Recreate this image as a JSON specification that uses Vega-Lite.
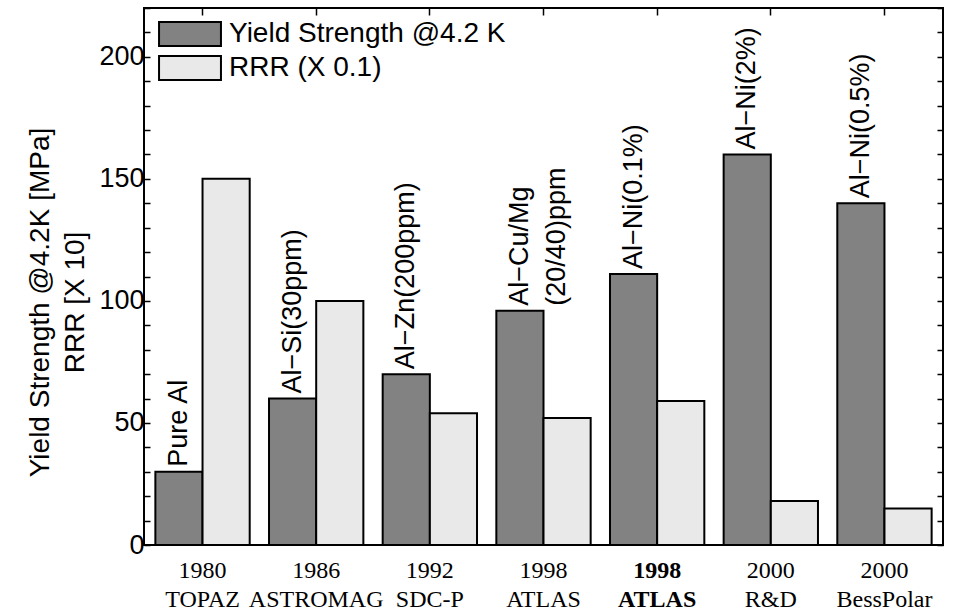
{
  "$schema": "https://vega.github.io/schema/vega-lite/v6.json",
  "width": 799,
  "height": 537,
  "autosize": "none",
  "padding": {"left": 144, "top": 8, "right": 14, "bottom": 68},
  "background": "white",
  "config": {
    "view": {"stroke": "black", "strokeWidth": 2},
    "axis": {"grid": false, "domainColor": "black", "tickColor": "black", "tickWidth": 1.5, "labelColor": "black", "titleColor": "black"}
  },
  "data": {
    "values": [
      {"grp": "1980 TOPAZ", "series": "Yield Strength @4.2 K", "value": 30, "label": "Pure Al"},
      {"grp": "1980 TOPAZ", "series": "RRR (X 0.1)", "value": 150},
      {"grp": "1986 ASTROMAG", "series": "Yield Strength @4.2 K", "value": 60, "label": "Al−Si(30ppm)"},
      {"grp": "1986 ASTROMAG", "series": "RRR (X 0.1)", "value": 100},
      {"grp": "1992 SDC-P", "series": "Yield Strength @4.2 K", "value": 70, "label": "Al−Zn(200ppm)"},
      {"grp": "1992 SDC-P", "series": "RRR (X 0.1)", "value": 54},
      {"grp": "1998 ATLAS1", "series": "Yield Strength @4.2 K", "value": 96, "label": "Al−Cu/Mg", "label2": "(20/40)ppm"},
      {"grp": "1998 ATLAS1", "series": "RRR (X 0.1)", "value": 52},
      {"grp": "1998 ATLAS2", "series": "Yield Strength @4.2 K", "value": 111, "label": "Al−Ni(0.1%)"},
      {"grp": "1998 ATLAS2", "series": "RRR (X 0.1)", "value": 59},
      {"grp": "2000 R&D", "series": "Yield Strength @4.2 K", "value": 160, "label": "Al−Ni(2%)"},
      {"grp": "2000 R&D", "series": "RRR (X 0.1)", "value": 18},
      {"grp": "2000 BessPolar", "series": "Yield Strength @4.2 K", "value": 140, "label": "Al−Ni(0.5%)"},
      {"grp": "2000 BessPolar", "series": "RRR (X 0.1)", "value": 15}
    ]
  },
  "encoding": {
    "x": {
      "field": "grp", "type": "nominal",
      "scale": {"domain": ["1980 TOPAZ", "1986 ASTROMAG", "1992 SDC-P", "1998 ATLAS1", "1998 ATLAS2", "2000 R&D", "2000 BessPolar"], "paddingInner": 0.17, "paddingOuter": 0.1},
      "axis": {
        "title": null, "domain": false,
        "labelExpr": "[slice(datum.value, 0, 4), indexof(datum.value, 'ATLAS') >= 0 ? 'ATLAS' : slice(datum.value, 5)]",
        "labelFont": "Liberation Serif", "labelFontSize": 24, "labelAngle": 0, "labelPadding": 18, "labelLineHeight": 29,
        "labelFontWeight": {"condition": {"test": "datum.value == '1998 ATLAS2'", "value": "bold"}, "value": "normal"},
        "tickSize": -5
      }
    },
    "xOffset": {"field": "series", "type": "nominal", "scale": {"domain": ["Yield Strength @4.2 K", "RRR (X 0.1)"], "paddingInner": 0, "paddingOuter": 0}},
    "y": {
      "field": "value", "type": "quantitative",
      "scale": {"domain": [0, 220], "nice": false},
      "axis": {
        "domain": false,
        "values": [0, 10, 20, 30, 40, 50, 60, 70, 80, 90, 100, 110, 120, 130, 140, 150, 160, 170, 180, 190, 200, 210, 220],
        "labelExpr": "datum.value % 50 == 0 ? datum.label : ''",
        "tickSize": -6,
        "labelFont": "Liberation Sans", "labelFontSize": 27, "labelPadding": 6,
        "title": ["Yield Strength @4.2K [MPa]", "RRR [X 10]"],
        "titleFont": "Liberation Sans", "titleFontSize": 28, "titleFontWeight": "normal", "titleLineHeight": 35,
        "titlePadding": 9, "titleY": 294
      }
    }
  },
  "layer": [
    {
      "mark": {"type": "bar", "stroke": "black", "strokeWidth": 2},
      "encoding": {
        "fill": {
          "field": "series", "type": "nominal",
          "scale": {"domain": ["Yield Strength @4.2 K", "RRR (X 0.1)"], "range": ["#828282", "#e9e9e9"]},
          "legend": {
            "title": null, "orient": "none", "legendX": 32, "legendY": 12, "padding": 0,
            "symbolType": "M-2.58,-1H2.58V1H-2.58Z", "symbolSize": 576,
            "symbolStrokeColor": "black", "symbolStrokeWidth": 2,
            "labelFont": "Liberation Sans", "labelFontSize": 28, "labelColor": "black",
            "labelOffset": 25, "labelLimit": 500, "rowPadding": 2
          }
        }
      }
    },
    {
      "transform": [{"filter": "datum.label"}],
      "mark": {"type": "text", "angle": 270, "align": "left", "baseline": "middle", "dx": 5, "font": "Liberation Sans", "fontSize": 27, "color": "black"},
      "encoding": {
        "text": {"field": "label"},
        "x": {
          "field": "grp", "type": "nominal",
          "scale": {"domain": ["1980 TOPAZ", "1986 ASTROMAG", "1992 SDC-P", "1998 ATLAS1", "1998 ATLAS2", "2000 R&D", "2000 BessPolar"], "paddingInner": 0.17, "paddingOuter": 0.1},
          "axis": null
        },
        "y": {
          "field": "value", "type": "quantitative",
          "scale": {"domain": [0, 220], "nice": false},
          "axis": {
            "orient": "right", "domain": false, "labels": false, "title": null,
            "values": [0, 10, 20, 30, 40, 50, 60, 70, 80, 90, 100, 110, 120, 130, 140, 150, 160, 170, 180, 190, 200, 210, 220],
            "tickSize": -6
          }
        }
      }
    },
    {
      "transform": [{"filter": "datum.label2"}],
      "mark": {"type": "text", "angle": 270, "align": "left", "baseline": "middle", "dx": 5, "dy": 37, "font": "Liberation Sans", "fontSize": 27, "color": "black"},
      "encoding": {
        "text": {"field": "label2"},
        "x": {
          "field": "grp", "type": "nominal",
          "scale": {"domain": ["1980 TOPAZ", "1986 ASTROMAG", "1992 SDC-P", "1998 ATLAS1", "1998 ATLAS2", "2000 R&D", "2000 BessPolar"], "paddingInner": 0.17, "paddingOuter": 0.1},
          "axis": {"orient": "top", "title": null, "domain": false, "labels": false, "tickSize": -7}
        },
        "y": {
          "field": "value", "type": "quantitative",
          "scale": {"domain": [0, 220], "nice": false},
          "axis": null
        }
      }
    }
  ],
  "resolve": {"axis": {"x": "independent", "y": "independent"}}
}
